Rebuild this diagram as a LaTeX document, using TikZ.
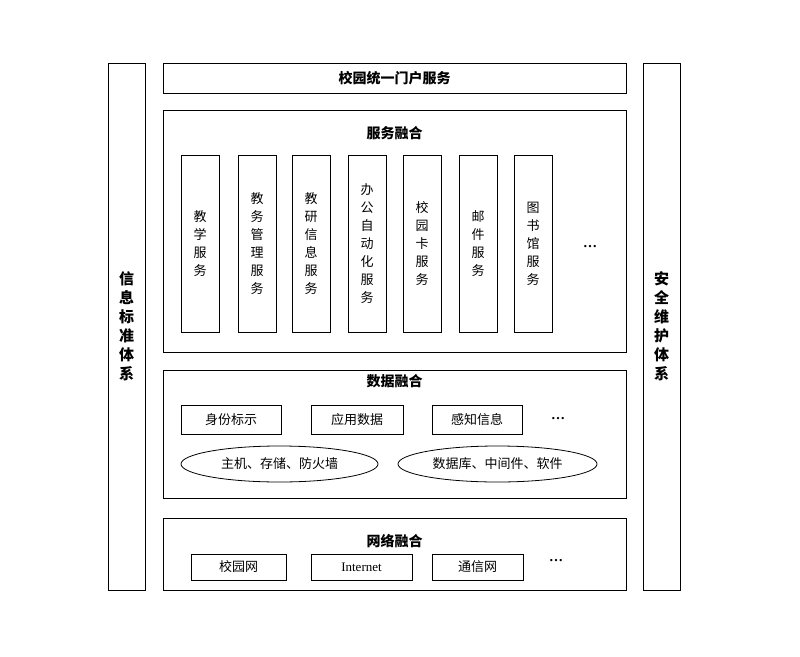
\documentclass[tikz,border=0pt]{standalone}
\usepackage{fontspec}
\setmainfont{Liberation Serif}
\newfontfamily\cjk{Noto Sans CJK SC}
\usetikzlibrary{shapes.geometric}
\begin{document}
\begin{tikzpicture}[x=1pt,y=-1pt,
  box/.style={draw,line width=0.8pt,inner sep=0pt},
  col/.style={box,minimum width=38pt,minimum height=177pt,align=center,font=\cjk\fontsize{13}{18}\selectfont},
  sbox/.style={box,font=\cjk\fontsize{13}{16}\selectfont},
  ttl/.style={font=\cjk\bfseries\fontsize{14}{16}\selectfont},
  ell/.style={draw,ellipse,line width=0.8pt,inner sep=0pt,font=\cjk\fontsize{13}{16}\selectfont},
  dots/.style={font=\bfseries\fontsize{14}{16}\selectfont}]
\useasboundingbox (0,0) rectangle (800,656);
% side bars
\node[box,minimum width=37pt,minimum height=527pt,align=center,font=\cjk\bfseries\fontsize{15}{19}\selectfont] (left) at (126.5,326.5) {信\\息\\标\\准\\体\\系};
\node[box,minimum width=37pt,minimum height=527pt,align=center,font=\cjk\bfseries\fontsize{15}{19}\selectfont] (right) at (661.5,326.5) {安\\全\\维\\护\\体\\系};
% top bar
\node[box,minimum width=463pt,minimum height=30pt,font=\cjk\bfseries\fontsize{14}{16}\selectfont] (portal) at (394.5,78) {校园统一门户服务};
% service
\node[box,minimum width=463pt,minimum height=242pt] (svc) at (394.5,231) {};
\node[ttl] (svct) at (394.5,133) {服务融合};
\node[col] (c1) at (200,243.5) {教\\学\\服\\务};
\node[col] (c2) at (257,243.5) {教\\务\\管\\理\\服\\务};
\node[col] (c3) at (311,243.5) {教\\研\\信\\息\\服\\务};
\node[col] (c4) at (367,243.5) {办\\公\\自\\动\\化\\服\\务};
\node[col] (c5) at (422,243.5) {校\\园\\卡\\服\\务};
\node[col] (c6) at (478,243.5) {邮\\件\\服\\务};
\node[col] (c7) at (533,243.5) {图\\书\\馆\\服\\务};
\node[dots] (d1) at (590,247) {…};
% data
\node[box,minimum width=463pt,minimum height=128pt] (data) at (394.5,434) {};
\node[ttl] (datat) at (394.5,381) {数据融合};
\node[sbox,minimum width=100pt,minimum height=29pt] (b1) at (231,419.5) {身份标示};
\node[sbox,minimum width=92pt,minimum height=29pt] (b2) at (357,419.5) {应用数据};
\node[sbox,minimum width=90pt,minimum height=29pt] (b3) at (477,419.5) {感知信息};
\node[dots] (d2) at (558,419) {…};
\node[ell,minimum width=197pt,minimum height=36pt] (e1) at (279.5,464) {主机、存储、防火墙};
\node[ell,minimum width=199pt,minimum height=36pt] (e2) at (497.5,464) {数据库、中间件、软件};
% network
\node[box,minimum width=463pt,minimum height=72pt] (net) at (394.5,554) {};
\node[ttl] (nett) at (394.5,541) {网络融合};
\node[sbox,minimum width=95pt,minimum height=26pt] (n1) at (238.5,567) {校园网};
\node[box,minimum width=101pt,minimum height=26pt,font=\fontsize{13}{16}\selectfont] (n2) at (361.5,567) {Internet};
\node[sbox,minimum width=91pt,minimum height=26pt] (n3) at (477.5,567) {通信网};
\node[dots] (d3) at (556,561) {…};
\end{tikzpicture}
\end{document}
